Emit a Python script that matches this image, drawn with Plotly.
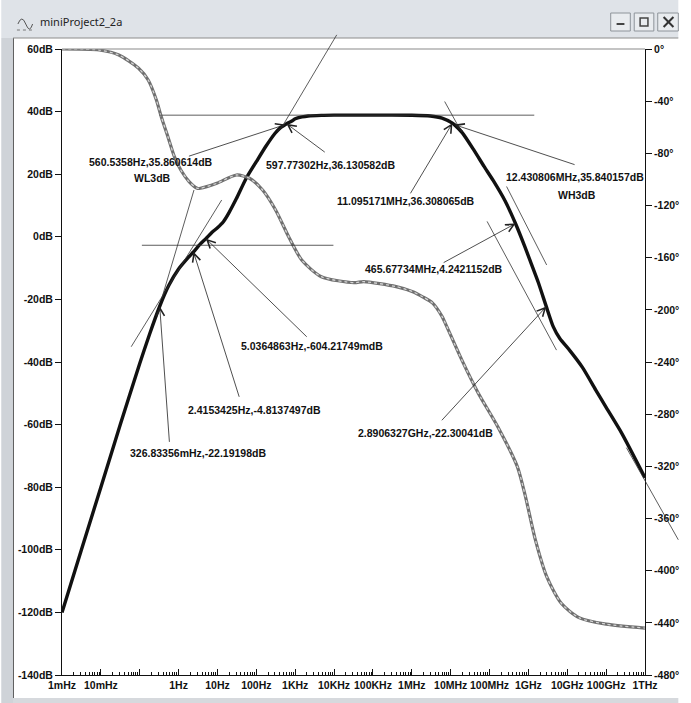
import numpy as np
import plotly.graph_objects as go

# ---- Bode data of V(vo) ----
freq_mag = [1e-3, 3.16e-3, 1e-2, 3.16e-2, 0.1, 0.178, 0.3268, 0.562, 1.0, 1.78, 2.415, 3.5,
            5.036, 7.5, 10, 14.2, 20, 30.7, 54.9, 100, 178, 300, 420, 560.5, 597.8, 800,
            1000, 1500, 2160, 4700, 1e4, 1e5, 1e6, 3e6, 6e6, 1.11e7, 1.243e7, 2e7, 4e7,
            7.3e7, 1.24e8, 2.5e8, 4.657e8, 8e8, 1.12e9, 1.8e9, 2.89e9, 4.35e9, 6.5e9,
            1.14e10, 2.48e10, 5.37e10, 1e11, 2.53e11, 1e12]
mag_db = [-120, -100, -80, -60, -40.5, -31.2, -22.19, -15.5, -10.3, -6.6, -4.81, -2.5,
          -0.6, 1.6, 2.9, 4.8, 7.8, 12.2, 18.7, 24.0, 29.0, 33.0, 34.9, 35.86, 36.13, 36.9,
          37.7, 38.3, 38.6, 38.8, 38.86, 38.86, 38.84, 38.6, 37.9, 36.31, 35.84, 33.2, 27.6,
          22.4, 18.0, 11.5, 4.24, -3.0, -7.8, -14.6, -22.3, -28.7, -32.6,
          -36.2, -41.8, -48.9, -54.5, -62.8, -77.0]

freq_ph = [1e-3, 9.1e-3, 2.9e-2, 9.2e-2, 0.165, 0.268, 0.358, 0.53, 0.78, 1.14, 1.86, 3.0,
           3.65, 9.6, 30.7, 66.5, 145, 313, 678, 1470, 4700, 32600, 58000, 3.95e5, 1.06e6,
           1.9e6, 3.38e6, 6.04e6, 7.2e6, 1.93e7, 5.1e7, 1.63e8, 5.19e8, 8.4e8, 1.5e9,
           3e9, 7e9, 2e10, 1e11, 1e12]
phase_deg = [0, -0.8, -4.6, -14.6, -23.8, -39.1, -51.9, -67.2, -82.6, -92.8, -101.7, -106.8,
             -106.8, -103, -96.6, -99.1, -108.1, -123.4, -143.9, -161.8, -174.6, -179.2, -178.4,
             -182.2, -186.1, -190, -194.7, -205.2, -210, -238.4, -263.7, -289.6, -320.2, -343.2,
             -376, -405, -425, -436, -441, -444]

# ---- axis ticks ----
x_tick_vals = [10.0 ** k for k in range(-3, 13)]
x_tick_text = ["1mHz", "10mHz", "", "1Hz", "10Hz", "100Hz", "1KHz", "10KHz", "100KHz",
               "1MHz", "10MHz", "100MHz", "1GHz", "10GHz", "100GHz", "1THz"]
x_minor_vals = [m * 10.0 ** k for k in range(-3, 12) for m in range(2, 10)]
db_tick_vals = list(range(-140, 61, 20))
db_tick_text = [f"{v}dB" for v in db_tick_vals]
deg_tick_vals = list(range(-480, 1, 40))
deg_tick_text = [f"{v}°" for v in deg_tick_vals]

# ---- cursor readouts: (text, log10 f, dB) ----
readouts = [
    ("560.5358Hz,35.860614dB", -0.698, 23.8),
    ("WL3dB", -0.673, 18.7),
    ("597.77302Hz,36.130582dB", 3.92, 22.8),
    ("11.095171MHz,36.308065dB", 5.844, 11.5),
    ("12.430806MHz,35.840157dB", 10.198, 19.0),
    ("WH3dB", 10.253, 13.35),
    ("465.67734MHz,4.2421152dB", 6.58, -10.3),
    ("5.0364863Hz,-604.21749mdB", 3.436, -34.8),
    ("2.4153425Hz,-4.8137497dB", 1.959, -55.3),
    ("326.83356mHz,-22.19198dB", 0.487, -69.0),
    ("2.8906327GHz,-22.30041dB", 6.34, -62.6),
]
# arrows: tail (log10 f, dB) -> tip (f, dB)
arrows = [
    ((0.227, 25.6), (560.5358, 35.860614)),
    ((3.799, 26.7), (597.77302, 36.130582)),
    ((5.942, 13.4), (11.095171e6, 36.308065)),
    ((10.227, 22.9), (12.430806e6, 35.840157)),
    ((6.781, -8.5), (465.67734e6, 4.2421152)),
    ((6.738, -59.1), (2.8906327e9, -22.30041)),
    ((3.335, -32.4), (5.0364863, -0.60421749)),
    ((1.571, -51.6), (2.4153425, -4.8137497)),
    ((-0.234, -66.0), (0.32683356, -22.19198)),
]
# drawn guide lines: (log10 f, dB) -> (log10 f, dB)
guides = [
    ((-0.529, 38.86), (9.151, 38.86)),
    ((-0.983, -2.7), (3.983, -2.7)),
    ((4.092, 65.0), (2.665, 35.2)),
    ((-1.243, -35.6), (1.109, 11.76)),
    ((-0.446, -20.2), (0.396, 14.95)),
    ((6.824, 43.7), (7.202, 35.2)),
    ((8.419, 16.55), (9.47, -9.0)),
    ((7.916, 5.4), (9.723, -36.2)),
    ((11.5, -66.9), (12.857, -96.8)),
]

W, H = 691, 703
L_M, R_M, T_M, B_M = 62, 34, 49, 28
PW, PH = W - L_M - R_M, H - T_M - B_M


def px(x):
    return (x - L_M) / PW


def py(y):
    return (H - B_M - y) / PH


fig = go.Figure()

# phase (right axis): dark rim with light dotted core
fig.add_trace(go.Scatter(x=freq_ph, y=phase_deg, yaxis="y2", mode="lines",
                         line=dict(color="#707070", width=3.2, shape="spline", smoothing=0.7),
                         hoverinfo="skip", showlegend=False))
fig.add_trace(go.Scatter(x=freq_ph, y=phase_deg, yaxis="y2", mode="lines",
                         line=dict(color="#d4d4d4", width=1.3, shape="spline", smoothing=0.7,
                                   dash="dot"),
                         hoverinfo="skip", showlegend=False))
# magnitude (left axis)
fig.add_trace(go.Scatter(x=freq_mag, y=mag_db, mode="lines",
                         line=dict(color="#111111", width=3.4, shape="spline", smoothing=0.6),
                         hoverinfo="skip", showlegend=False))

lab_font = dict(family="Liberation Sans, Arial", size=10.5, color="#111111", weight="bold")

for (a, b) in guides:
    fig.add_annotation(x=b[0], y=b[1], ax=a[0], ay=a[1], xref="x", yref="y",
                       axref="x", ayref="y", text="", showarrow=True, arrowhead=0,
                       arrowwidth=0.8, arrowcolor="#333333")
for (tail, tip) in arrows:
    fig.add_annotation(x=np.log10(tip[0]), y=tip[1], ax=tail[0], ay=tail[1], xref="x",
                       yref="y", axref="x", ayref="y", text="", showarrow=True, arrowhead=5,
                       arrowsize=2.0, arrowwidth=0.8, arrowcolor="#222222")
for (t, lx, ly) in readouts:
    fig.add_annotation(x=lx, y=ly, xref="x", yref="y", text=t, showarrow=False,
                       font=lab_font, xanchor="center", yanchor="middle")

# trace name
fig.add_annotation(x=4.495, y=62.65, xref="x", yref="y", text="V(vo)", showarrow=False,
                   font=dict(family="Liberation Sans, Arial", size=11, color="#111111",
                             weight="bold"))

shapes = []
# top frame line
shapes.append(dict(type="line", xref="paper", yref="paper", x0=0, x1=1, y0=1, y1=1,
                   line=dict(color="#8a8a8a", width=1.2)))
# window chrome: title bar, side frame, bottom frame
shapes.append(dict(type="rect", xref="paper", yref="paper", x0=px(0), x1=px(W), y0=py(38),
                   y1=py(0), fillcolor="#dfe3e8", line=dict(width=0), layer="below"))
shapes.append(dict(type="rect", xref="paper", yref="paper", x0=px(0), x1=px(12), y0=py(H),
                   y1=py(38), fillcolor="#cfd3d8", line=dict(width=0), layer="below"))
shapes.append(dict(type="line", xref="paper", yref="paper", x0=px(12.5), x1=px(12.5),
                   y0=py(698), y1=py(38), line=dict(color="#606060", width=1)))
shapes.append(dict(type="line", xref="paper", yref="paper", x0=px(12), x1=px(W),
                   y0=py(38), y1=py(38), line=dict(color="#8c8c8c", width=1)))
shapes.append(dict(type="rect", xref="paper", yref="paper", x0=px(12), x1=px(W), y0=py(H),
                   y1=py(698), fillcolor="#d6d9dd", line=dict(width=0), layer="below"))
# caption buttons
for (bx0, bx1) in [(622, 642), (646, 666), (670, 691)]:
    shapes.append(dict(type="rect", xref="paper", yref="paper", x0=px(bx0), x1=px(bx1),
                       y0=py(31), y1=py(13), fillcolor="#e9ecef",
                       line=dict(color="#8e949a", width=1)))
shapes.append(dict(type="line", xref="paper", yref="paper", x0=px(628), x1=px(636),
                   y0=py(24), y1=py(24), line=dict(color="#444", width=2)))
shapes.append(dict(type="rect", xref="paper", yref="paper", x0=px(652), x1=px(660),
                   y0=py(26), y1=py(18), line=dict(color="#444", width=1.5)))
shapes.append(dict(type="line", xref="paper", yref="paper", x0=px(676), x1=px(686),
                   y0=py(27), y1=py(17), line=dict(color="#333", width=2)))
shapes.append(dict(type="line", xref="paper", yref="paper", x0=px(676), x1=px(686),
                   y0=py(17), y1=py(27), line=dict(color="#333", width=2)))
# window icon (small waveform)
shapes.append(dict(type="path", xref="paper", yref="paper",
                   path=f"M{px(17)},{py(24)} Q{px(21)},{py(14)} {px(25)},{py(24)} "
                        f"Q{px(29)},{py(34)} {px(32)},{py(24)}",
                   line=dict(color="#555", width=1)))
shapes.append(dict(type="line", xref="paper", yref="paper", x0=px(16), x1=px(33),
                   y0=py(30), y1=py(30), line=dict(color="#777", width=1, dash="dot")))
fig.add_annotation(x=px(38), y=py(21), xref="paper", yref="paper", text="miniProject2_2a",
                   showarrow=False, xanchor="left", yanchor="middle",
                   font=dict(family="Noto Sans, DejaVu Sans", size=11, color="#222"))

axis_font = dict(family="Liberation Sans, Arial", size=10.5, color="#111111", weight="bold")

fig.update_layout(
    width=W, height=H, margin=dict(l=L_M, r=R_M, t=T_M, b=B_M, pad=0),
    paper_bgcolor="white", plot_bgcolor="white", showlegend=False, shapes=shapes,
    xaxis=dict(type="log", range=[-3, 12], showgrid=False, zeroline=False, showline=True,
               linecolor="#111", linewidth=1, ticks="inside", ticklen=6, tickcolor="#111",
               tickvals=x_tick_vals, ticktext=x_tick_text, tickfont=axis_font,
               minor=dict(tickvals=x_minor_vals, ticks="inside", ticklen=3,
                          tickcolor="#111", showgrid=False)),
    yaxis=dict(range=[-140, 60], showgrid=False, zeroline=False, showline=True,
               linecolor="#111", linewidth=1, ticks="outside", ticklen=6, tickcolor="#111",
               tickvals=db_tick_vals, ticktext=db_tick_text, tickfont=axis_font),
    yaxis2=dict(range=[-480, 0], overlaying="y", side="right", showgrid=False,
                zeroline=False, showline=True, linecolor="#111", linewidth=1,
                ticks="outside", ticklen=6, tickcolor="#111",
                tickvals=deg_tick_vals, ticktext=deg_tick_text, tickfont=axis_font),
)

fig.write_html("out.html")
